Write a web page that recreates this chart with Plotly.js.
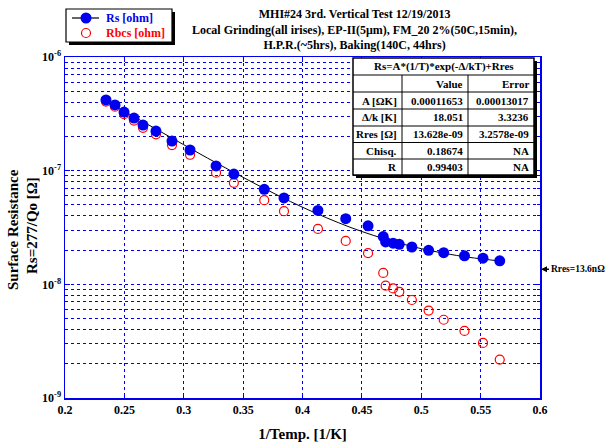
<!DOCTYPE html>
<html>
<head>
<meta charset="utf-8">
<script src="https://cdn.plot.ly/plotly-3.0.1.min.js"></script>
<style>html,body{margin:0;padding:0;background:#fff;}#chart{width:608px;height:445px;}</style>
</head>
<body>
<div id="chart"></div>
<script>
// ---- data ----
var invT = [0.2345,0.2421,0.2497,0.2581,0.2657,0.2766,0.2901,0.3053,0.3272,0.3422,0.3678,0.3844,0.4130,0.4364,0.4552,0.4680,0.4700,0.4763,0.4815,0.4921,0.5062,0.5189,0.5364,0.5520,0.5661];
var rs = [4.19e-7,3.79e-7,3.28e-7,2.90e-7,2.52e-7,2.23e-7,1.82e-7,1.52e-7,1.10e-7,9.33e-8,6.85e-8,5.75e-8,4.47e-8,3.78e-8,3.27e-8,2.63e-8,2.36e-8,2.30e-8,2.25e-8,2.13e-8,1.99e-8,1.90e-8,1.78e-8,1.70e-8,1.61e-8];
var rbcs = [4.05e-7,3.65e-7,3.14e-7,2.76e-7,2.38e-7,2.09e-7,1.68e-7,1.38e-7,9.6e-8,7.81e-8,5.5e-8,4.4e-8,3.07e-8,2.41e-8,1.88e-8,1.26e-8,9.73e-9,9.21e-9,8.59e-9,7.28e-9,5.88e-9,4.88e-9,3.89e-9,3.05e-9,2.18e-9];
// fit curve
var fitX = [0.234,0.26,0.28,0.30,0.32,0.34,0.36,0.38,0.40,0.42,0.44,0.46,0.48,0.50,0.52,0.54,0.567];
var fitY = [4.13e-7,2.91e-7,2.22e-7,1.69e-7,1.29e-7,9.93e-8,7.68e-8,6.01e-8,4.77e-8,3.86e-8,3.18e-8,2.69e-8,2.33e-8,2.06e-8,1.87e-8,1.73e-8,1.60e-8];
var rresValue = 13.6e-9;
var rresLabel = 'Rres=13.6nΩ';

var seriesNames = ['Rs [ohm]', 'Rbcs [ohm]'];

var xTickVals = [0.2,0.25,0.3,0.35,0.4,0.45,0.5,0.55,0.6];
var xTickText = ['0.2','0.25','0.3','0.35','0.4','0.45','0.5','0.55','0.6'];
var yTickVals = [1e-9,1e-8,1e-7,1e-6];
var yTickText = ['10<sup>-9</sup>','10<sup>-8</sup>','10<sup>-7</sup>','10<sup>-6</sup>'];

var tableTitle = 'Rs=A*(1/T)*exp(-<b>Δ</b>/kT)+Rres';
var tableLabels = ['', 'A [<b>ΩK</b>]', '<b>Δ</b>/k [K]', 'Rres [<b>Ω</b>]', 'Chisq.', 'R'];
var tableValues = ['Value','0.00011653','18.051','13.628e-09','0.18674','0.99403'];
var tableErrors = ['Error','0.00013017','3.3236','3.2578e-09','NA','NA'];

var titleLines = ['MHI#24 3rd. Vertical Test 12/19/2013',
  'Local Grinding(all irises), EP-II(5μm), FM_20 2%(50C,15min),',
  'H.P.R.(~5hrs), Baking(140C, 44hrs)'];

// ---- layout helpers (pixel -> paper) ----
var L = 65, R = 540, T = 57, B = 398;
function px(x){ return (x - L) / (R - L); }
function py(y){ return (B - y) / (B - T); }

var FONT = 'Liberation Serif, Times New Roman, serif';
var BLUE = '#0000ee';
var RED = '#ff0000';

var minorVals = [];
[1e-9,1e-8,1e-7].forEach(function(d){ for (var k=2;k<=9;k++) minorVals.push(k*d); });

var traces = [
  {x: fitX, y: fitY, mode: 'lines', line: {color: 'black', width: 1, shape: 'spline'}, showlegend: false, hoverinfo: 'skip'},
  {x: invT, y: rbcs, mode: 'markers', name: seriesNames[1], marker: {symbol: 'circle-open', size: 9, color: RED, line: {width: 1.2, color: RED}}, showlegend: false},
  {x: invT, y: rs, mode: 'markers', name: seriesNames[0], marker: {symbol: 'circle', size: 11, color: BLUE}, showlegend: false}
];

var shapes = [];
var annotations = [];
function rectPx(x0, y0, x1, y1, fill, lw, lc) {
  shapes.push({type:'rect', xref:'paper', yref:'paper', x0: px(x0), x1: px(x1), y0: py(y1), y1: py(y0), fillcolor: fill, line: {width: lw, color: lc || 'black'}, layer: 'above'});
}
function linePx(x0, y0, x1, y1, lw) {
  shapes.push({type:'line', xref:'paper', yref:'paper', x0: px(x0), x1: px(x1), y0: py(y0), y1: py(y1), line: {width: lw, color: 'black'}, layer: 'above'});
}

// ---- legend (drawn by hand) ----
var lgL = 66, lgR = 172, lgT = 9, lgB = 42;
rectPx(lgL+3, lgT+3, lgR+3, lgB+3, 'black', 0);
rectPx(lgL, lgT, lgR, lgB, 'white', 1.2);
linePx(72, 18, 99, 18, 1.2);
shapes.push({type:'circle', xref:'paper', yref:'paper', x0: px(80.5), x1: px(91.5), y0: py(23.5), y1: py(12.5), fillcolor: BLUE, line: {width: 0}, layer: 'above'});
shapes.push({type:'circle', xref:'paper', yref:'paper', x0: px(81.5), x1: px(90.5), y0: py(37.5), y1: py(28.5), fillcolor: 'rgba(0,0,0,0)', line: {width: 1.2, color: RED}, layer: 'above'});
annotations.push({xref:'paper', yref:'paper', x: px(104), y: py(18), text: seriesNames[0], showarrow: false, xanchor: 'left', yanchor: 'middle', font: {family: FONT, size: 12, color: BLUE, weight: 'bold'}});
annotations.push({xref:'paper', yref:'paper', x: px(104), y: py(33), text: seriesNames[1], showarrow: false, xanchor: 'left', yanchor: 'middle', font: {family: FONT, size: 12, color: RED, weight: 'bold'}});

// ---- table ----
var tL = 353, tR = 534, tT = 58, tB = 175;
var rowEdges = [58, 75, 92, 109, 126, 142.5, 159, 175];
var colEdges = [402, 468];
rectPx(tL+3, tT+3, tR+3, tB+3, 'black', 0);
rectPx(tL, tT, tR, tB, 'white', 1.5);
for (var i = 1; i < rowEdges.length - 1; i++) linePx(tL, rowEdges[i], tR, rowEdges[i], 1);
colEdges.forEach(function(c){ linePx(c, rowEdges[1], c, tB, 1); });
var tfont = {family: FONT, size: 11, color: 'black', weight: 'bold'};
annotations.push({xref:'paper', yref:'paper', x: px((tL+tR)/2), y: py((rowEdges[0]+rowEdges[1])/2), text: tableTitle, showarrow:false, font: tfont, xanchor:'center', yanchor:'middle'});
for (var r = 0; r < tableLabels.length; r++) {
  var yc = py((rowEdges[r+1] + rowEdges[r+2]) / 2);
  if (tableLabels[r]) annotations.push({xref:'paper', yref:'paper', x: px(colEdges[0]-3), y: yc, text: tableLabels[r], showarrow:false, font: tfont, xanchor:'right', yanchor:'middle'});
  annotations.push({xref:'paper', yref:'paper', x: px(colEdges[1]-3), y: yc, text: tableValues[r], showarrow:false, font: tfont, xanchor:'right', yanchor:'middle'});
  annotations.push({xref:'paper', yref:'paper', x: px(tR-3), y: yc, text: tableErrors[r], showarrow:false, font: tfont, xanchor:'right', yanchor:'middle'});
}

// ---- title ----
annotations.push({xref:'paper', yref:'paper', x: px(354), y: py(5), text: titleLines.join('<br>'), showarrow: false, xanchor: 'center', yanchor: 'top', align: 'center', font: {family: FONT, size: 12, color: 'black', weight: 'bold'}});

// ---- Rres arrow ----
annotations.push({xref:'paper', yref:'y', x: px(541), y: Math.log10(rresValue), text: rresLabel, showarrow: true, ax: 8, ay: 0, xanchor: 'left', arrowhead: 2, arrowsize: 0.8, arrowwidth: 1.5, arrowcolor: 'black', standoff: 0, font: {family: FONT, size: 9.5, color: 'black', weight: 'bold'}});

// ---- y-axis title (two lines) ----
annotations.push({xref:'paper', yref:'paper', x: px(13), y: py(230), text: 'Surface Resistance', textangle: -90, showarrow:false, xanchor:'center', yanchor:'middle', font:{family: FONT, size: 15, color:'black', weight:'bold'}});
annotations.push({xref:'paper', yref:'paper', x: px(32), y: py(226), text: 'Rs=277/Qo [<b>Ω</b>]', textangle: -90, showarrow:false, xanchor:'center', yanchor:'middle', font:{family: FONT, size: 15, color:'black', weight:'bold'}});

var gridStyle = {gridcolor: BLUE, griddash: 'dot', gridwidth: 1};

var layout = {
  width: 608, height: 445,
  margin: {l: L, r: 608 - R, t: T, b: 445 - B},
  paper_bgcolor: 'white', plot_bgcolor: 'white',
  font: {family: FONT, color: 'black'},
  showlegend: false,
  xaxis: Object.assign({
    range: [0.2, 0.6], tickmode: 'array', tickvals: xTickVals, ticktext: xTickText,
    ticks: 'inside', ticklen: 5, tickcolor: BLUE, mirror: 'allticks', showline: true, linecolor: BLUE, linewidth: 1.5,
    showgrid: true, zeroline: false,
    tickfont: {family: FONT, size: 12, color: 'black', weight: 'bold'},
    title: {text: '1/Temp. [1/K]', font: {family: FONT, size: 15, color: 'black', weight: 'bold'}, standoff: 12}
  }, gridStyle),
  yaxis: Object.assign({
    type: 'log', range: [-9, -6], tickmode: 'array', tickvals: yTickVals, ticktext: yTickText,
    ticks: 'inside', ticklen: 5, tickcolor: BLUE, mirror: 'allticks', showline: true, linecolor: BLUE, linewidth: 1.5,
    showgrid: true, zeroline: false,
    tickfont: {family: FONT, size: 12, color: 'black', weight: 'bold'},
    minor: {tickmode: 'array', tickvals: minorVals, ticks: 'inside', ticklen: 3, tickcolor: BLUE, showgrid: true, gridcolor: BLUE, griddash: 'dot', gridwidth: 1}
  }, gridStyle),
  shapes: shapes,
  annotations: annotations
};

Plotly.newPlot('chart', traces, layout, {displayModeBar: false, staticPlot: true});
</script>
</body>
</html>
